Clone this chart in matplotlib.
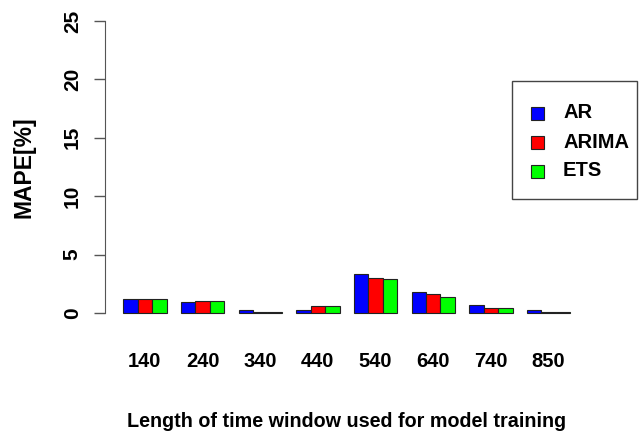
import numpy as np
import matplotlib
matplotlib.use("Agg")
import matplotlib.pyplot as plt
from matplotlib.patches import Rectangle

windows = ["140", "240", "340", "440", "540", "640", "740", "850"]
models = ["AR", "ARIMA", "ETS"]
ar = [1.2, 0.9, 0.22, 0.22, 3.3, 1.83, 0.68, 0.22]
arima = [1.2, 1.0, 0.1, 0.6, 2.96, 1.6, 0.45, 0.1]
ets = [1.2, 1.0, 0.1, 0.6, 2.92, 1.37, 0.43, 0.1]
colors = ["#0000ff", "#ff0000", "#00ff00"]

plt.rcParams["font.family"] = ["Liberation Sans", "DejaVu Sans"]

fig = plt.figure(figsize=(6.44, 4.32), dpi=100)
ax = fig.add_axes([0.1637, 0.2484, 0.7495, 0.7301])

# R style barplot: beside=TRUE, space=c(0,1)
series = [ar, arima, ets]
centers = []
for g in range(len(windows)):
    left = 1 + g * 4
    for k, vals in enumerate(series):
        ax.bar(left + k, vals[g], width=1, align="edge",
               color=colors[k], edgecolor="#222222", linewidth=0.8)
    centers.append(left + 1.5)

ax.set_xlim(-0.24, 33.24)
ax.set_ylim(-1, 26)
for s in ["top", "right", "bottom"]:
    ax.spines[s].set_visible(False)
ax.spines["left"].set_bounds(0, 25)
ax.spines["left"].set_color("#555555")

ax.set_yticks([0, 5, 10, 15, 20, 25])
ax.set_yticklabels(["0", "5", "10", "15", "20", "25"], rotation=90,
                   va="center", fontsize=15, fontweight="bold")
ax.tick_params(axis="y", length=8, width=1, color="#555555", pad=9)

ax.set_xticks(centers)
ax.set_xticklabels(windows, fontsize=14.5, fontweight="bold")
for lab in ax.get_xticklabels():
    lab.set_va("baseline")
ax.tick_params(axis="x", length=0, pad=30.5)

ax.set_ylabel("MAPE[%]", fontsize=16.5, fontweight="bold", va="center")
ax.yaxis.set_label_coords(-0.1686, 0.5)
ax.set_xlabel("Length of time window used for model training",
              fontsize=14.2, fontweight="bold", va="baseline")
ax.xaxis.set_label_coords(0.5, -0.3243)

# legend box in figure pixels
def px(x, y):
    return x / 644, 1 - y / 432

x0, y0 = px(512, 199)
x1, y1 = px(637, 81)
fig.patches.append(Rectangle((x0, y0), x1 - x0, y1 - y0, transform=fig.transFigure,
                             fill=False, edgecolor="#444444", linewidth=1))
for k, (name, c) in enumerate(zip(models, colors)):
    cy = 113 + k * 29
    sx, sy = px(531, cy + 6.5)
    fig.patches.append(Rectangle((sx, sy), 13 / 644, 13 / 432, transform=fig.transFigure,
                                 facecolor=c, edgecolor="#222222", linewidth=0.8))
    tx, ty = px(563, cy)
    fig.text(tx, ty, name, fontsize=14.5, fontweight="bold", va="center", ha="left")

fig.savefig("out.png", dpi=100)
